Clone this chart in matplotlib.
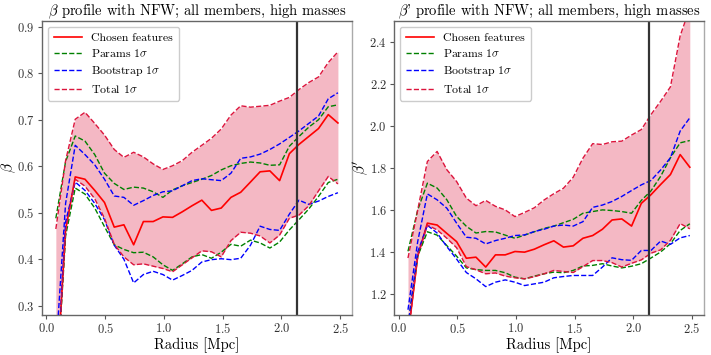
import numpy as np
import matplotlib
matplotlib.use('Agg')
import matplotlib.pyplot as plt

plt.rcParams['font.family'] = ['cmr10', 'DejaVu Serif']
plt.rcParams['mathtext.fontset'] = 'cm'
plt.rcParams['axes.formatter.use_mathtext'] = True

# radii of the bins [Mpc]
radius = [0.08, 0.163, 0.245, 0.328, 0.411, 0.494, 0.577, 0.659, 0.742, 0.825,
          0.908, 0.991, 1.073, 1.156, 1.239, 1.322, 1.404, 1.487, 1.570, 1.653,
          1.736, 1.818, 1.901, 1.984, 2.067, 2.149, 2.232, 2.315, 2.398, 2.48]
r_cut = 2.13

# ---- beta ----
beta = [0.11, 0.463, 0.577, 0.572, 0.548, 0.522, 0.469, 0.474, 0.431, 0.481,
        0.481, 0.491, 0.490, 0.502, 0.515, 0.527, 0.505, 0.510, 0.533, 0.544,
        0.566, 0.588, 0.590, 0.569, 0.627, 0.647, 0.664, 0.681, 0.711, 0.693]
beta_par_hi = [0.488, 0.610, 0.665, 0.654, 0.625, 0.585, 0.563, 0.550, 0.555, 0.553,
               0.545, 0.533, 0.549, 0.558, 0.565, 0.572, 0.580, 0.592, 0.601, 0.606,
               0.609, 0.607, 0.602, 0.603, 0.643, 0.664, 0.684, 0.700, 0.728, 0.732]
beta_par_lo = [0.10, 0.45, 0.553, 0.540, 0.510, 0.470, 0.431, 0.421, 0.414, 0.415,
               0.405, 0.388, 0.376, 0.390, 0.405, 0.410, 0.402, 0.415, 0.432, 0.428,
               0.441, 0.435, 0.424, 0.437, 0.463, 0.485, 0.508, 0.535, 0.565, 0.572]
beta_boot_hi = [0.20, 0.52, 0.645, 0.625, 0.603, 0.572, 0.536, 0.533, 0.516, 0.526,
                0.537, 0.545, 0.547, 0.558, 0.569, 0.573, 0.571, 0.569, 0.585, 0.617,
                0.620, 0.626, 0.636, 0.648, 0.662, 0.676, 0.692, 0.708, 0.745, 0.758]
beta_boot_lo = [0.10, 0.48, 0.566, 0.548, 0.520, 0.485, 0.430, 0.400, 0.349, 0.367,
                0.374, 0.367, 0.355, 0.365, 0.376, 0.394, 0.399, 0.401, 0.399, 0.402,
                0.430, 0.471, 0.464, 0.462, 0.497, 0.527, 0.518, 0.525, 0.535, 0.543]
beta_tot_hi = [0.465, 0.612, 0.701, 0.716, 0.692, 0.667, 0.636, 0.619, 0.630, 0.620,
               0.605, 0.593, 0.601, 0.612, 0.630, 0.645, 0.660, 0.680, 0.710, 0.730,
               0.727, 0.729, 0.731, 0.740, 0.748, 0.765, 0.780, 0.792, 0.823, 0.846]
beta_tot_lo = [0.10, 0.46, 0.572, 0.557, 0.530, 0.488, 0.432, 0.405, 0.388, 0.390,
               0.385, 0.380, 0.373, 0.388, 0.403, 0.418, 0.416, 0.405, 0.440, 0.458,
               0.456, 0.450, 0.435, 0.452, 0.488, 0.495, 0.515, 0.547, 0.578, 0.562]

# ---- beta' ----
betap = [1.00, 1.38, 1.537, 1.528, 1.488, 1.449, 1.370, 1.375, 1.328, 1.386,
         1.386, 1.402, 1.399, 1.413, 1.434, 1.453, 1.423, 1.429, 1.465, 1.478,
         1.508, 1.552, 1.557, 1.523, 1.631, 1.672, 1.721, 1.768, 1.863, 1.803]
betap_par_hi = [1.403, 1.60, 1.727, 1.704, 1.648, 1.569, 1.522, 1.490, 1.497, 1.495,
                1.480, 1.465, 1.480, 1.496, 1.512, 1.523, 1.539, 1.555, 1.584, 1.592,
                1.600, 1.597, 1.592, 1.584, 1.645, 1.690, 1.760, 1.848, 1.919, 1.930]
betap_par_lo = [1.05, 1.38, 1.496, 1.480, 1.430, 1.380, 1.324, 1.316, 1.312, 1.312,
                1.301, 1.280, 1.272, 1.285, 1.296, 1.304, 1.301, 1.312, 1.333, 1.336,
                1.344, 1.333, 1.324, 1.332, 1.344, 1.371, 1.400, 1.439, 1.502, 1.534]
betap_boot_hi = [1.125, 1.45, 1.676, 1.648, 1.608, 1.537, 1.470, 1.465, 1.438, 1.454,
                 1.465, 1.478, 1.481, 1.497, 1.508, 1.523, 1.528, 1.523, 1.544, 1.612,
                 1.623, 1.640, 1.664, 1.692, 1.719, 1.740, 1.790, 1.848, 1.975, 2.038]
betap_boot_lo = [1.05, 1.40, 1.527, 1.490, 1.425, 1.366, 1.302, 1.272, 1.235, 1.256,
                 1.267, 1.256, 1.240, 1.248, 1.256, 1.277, 1.283, 1.288, 1.288, 1.288,
                 1.328, 1.372, 1.363, 1.360, 1.407, 1.407, 1.452, 1.436, 1.467, 1.478]
betap_tot_hi = [1.371, 1.60, 1.830, 1.878, 1.791, 1.735, 1.656, 1.620, 1.645, 1.617,
                1.600, 1.568, 1.588, 1.610, 1.647, 1.677, 1.703, 1.755, 1.846, 1.915,
                1.911, 1.924, 1.927, 1.956, 1.982, 2.053, 2.117, 2.185, 2.428, 2.560]
betap_tot_lo = [1.00, 1.38, 1.528, 1.505, 1.465, 1.420, 1.330, 1.315, 1.296, 1.300,
                1.285, 1.277, 1.272, 1.282, 1.296, 1.312, 1.307, 1.302, 1.330, 1.359,
                1.359, 1.349, 1.328, 1.346, 1.362, 1.394, 1.410, 1.455, 1.535, 1.510]

TOT_COLOR = '#dc143c'


def draw_panel(ax, y, par_hi, par_lo, boot_hi, boot_lo, tot_hi, tot_lo, ylim, title, ylabel):
    ax.fill_between(radius, tot_lo, tot_hi, color=TOT_COLOR, alpha=0.3, lw=0)
    ax.plot(radius, y, '-', color='red', lw=1.2, label='Chosen features')
    ax.plot(radius, par_hi, '--', color='green', lw=1.0, label=r'Params 1$\sigma$')
    ax.plot(radius, par_lo, '--', color='green', lw=1.0)
    ax.plot(radius, boot_hi, '--', color='blue', lw=1.0, label=r'Bootstrap 1$\sigma$')
    ax.plot(radius, boot_lo, '--', color='blue', lw=1.0)
    ax.plot(radius, tot_hi, '--', color=TOT_COLOR, lw=1.0, label=r'Total 1$\sigma$')
    ax.plot(radius, tot_lo, '--', color=TOT_COLOR, lw=1.0)
    ax.axvline(r_cut, color='#333333', lw=1.6)
    ax.set_xlim(-0.04, 2.6)
    ax.set_ylim(*ylim)
    ax.set_xticks([0.0, 0.5, 1.0, 1.5, 2.0, 2.5])
    ax.set_title(title, fontsize=10.5, pad=3)
    ax.set_xlabel('Radius [Mpc]', fontsize=10.5, labelpad=1)
    ax.set_ylabel(ylabel, fontsize=11)
    ax.yaxis.set_label_coords(-0.078, 0.5)
    ax.tick_params(labelsize=9, direction='out', length=3, width=0.8,
                   color='#555555', labelcolor='#333333', pad=2)
    for s in ax.spines.values():
        s.set_color('#666666')
        s.set_linewidth(1.0)
    ax.spines['right'].set_color('#aaaaaa')
    leg = ax.legend(loc='upper left', fontsize=8.5, handlelength=2.4,
                    borderpad=0.5, labelspacing=0.4, fancybox=True, framealpha=1.0)
    leg.get_frame().set_edgecolor('#cccccc')


fig = plt.figure(figsize=(7.11, 3.55), dpi=100)
ax1 = fig.add_axes([0.0587, 0.1127, 0.4364, 0.829])
ax2 = fig.add_axes([0.554, 0.1127, 0.436, 0.829])

draw_panel(ax1, beta, beta_par_hi, beta_par_lo, beta_boot_hi, beta_boot_lo,
           beta_tot_hi, beta_tot_lo, (0.28, 0.913),
           r'$\beta$ profile with NFW; all members, high masses', r'$\beta$')
ax1.set_yticks([0.3, 0.4, 0.5, 0.6, 0.7, 0.8, 0.9])

draw_panel(ax2, betap, betap_par_hi, betap_par_lo, betap_boot_hi, betap_boot_lo,
           betap_tot_hi, betap_tot_lo, (1.1, 2.5),
           r"$\beta$' profile with NFW; all members, high masses", r"$\beta'$")
ax2.set_yticks([1.2, 1.4, 1.6, 1.8, 2.0, 2.2, 2.4])

fig.savefig('out.png', dpi=100)
